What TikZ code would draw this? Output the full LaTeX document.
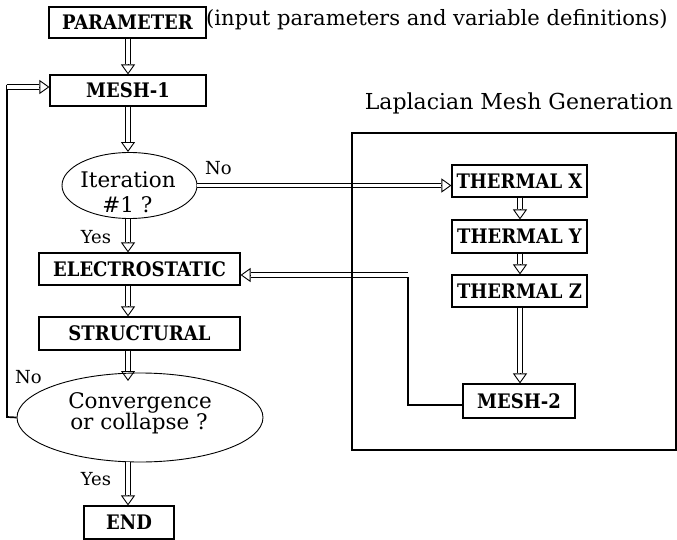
\documentclass[tikz,border=0pt]{standalone}
\usepackage{fontspec}
\setmainfont{Liberation Serif}
\newfontfamily\plotfont{DejaVu Serif}
\newfontfamily\boxfont{DejaVu Serif Condensed}
\usetikzlibrary{arrows.meta,shapes.geometric,calc}
\tikzset{
  x=1pt, y=-1pt,
  boxnode/.style={draw, line width=1.1pt, inner sep=0pt, font=\boxfont\bfseries\fontsize{20}{22}\selectfont},
  ovalnode/.style={draw, ellipse, line width=0.9pt, inner sep=0pt},
  plottext/.style={inner sep=0pt, anchor=base, font=\plotfont\fontsize{21.5}{24}\selectfont},
  smalltext/.style={inner sep=0pt, anchor=base, font=\plotfont\fontsize{18}{20}\selectfont},
  dblshaft/.style={line width=0.9pt, double distance=3.6pt, line join=miter},
  dbltip/.style={line width=0.9pt, -{Triangle[open, length=10pt, width=14pt]}},
  thickline/.style={line width=1.7pt, line join=miter},
  frame/.style={draw, line width=1.1pt}
}
\newcommand\dblarrow[2]{%
  \draw[dblshaft] #1 -- ($#2!10pt!#1$);
  \draw[dbltip] ($#2!10pt!#1$) -- #2;
}
\begin{document}
\begin{tikzpicture}
\path[use as bounding box] (0,0) rectangle (677,540);

\node[plottext, font=\plotfont\fontsize{22}{24}\selectfont] (laptitle) at (519,110) {Laplacian Mesh Generation};

% boxes
\node[boxnode, minimum width=157pt, minimum height=31pt] (par) at (127.5,22.5) {PARAMETER};
\node[plottext, anchor=base west, font=\plotfont\fontsize{21.1}{24}\selectfont] (partext) at (206,26) {(input parameters and variable definitions)};
\node[boxnode, minimum width=156pt, minimum height=31pt] (m1) at (128,90.5) {MESH-1};
\node[ovalnode, minimum width=135pt, minimum height=66pt] (e1) at (129.5,185.5) {};
\node[plottext] (e1a) at (128,188) {Iteration};
\node[plottext] (e1b) at (127.5,213) {\#1 ?};
\node[boxnode, minimum width=201pt, minimum height=32pt] (el) at (139.5,269) {ELECTROSTATIC};
\node[boxnode, minimum width=201pt, minimum height=33pt] (st) at (139.5,333.5) {STRUCTURAL};
\node[ovalnode, minimum width=246pt, minimum height=89pt] (e2) at (140,417.5) {};
\node[plottext] (e2a) at (140,408) {Convergence};
\node[plottext] (e2b) at (139,429) {or collapse ?};
\node[boxnode, minimum width=90pt, minimum height=33pt] (en) at (129,522.5) {END};

\node[boxnode, minimum width=135pt, minimum height=32pt] (tx) at (519.5,181) {THERMAL X};
\node[boxnode, minimum width=135pt, minimum height=33pt] (ty) at (519.5,236.5) {THERMAL Y};
\node[boxnode, minimum width=135pt, minimum height=32pt] (tz) at (519.5,291) {THERMAL Z};
\node[boxnode, minimum width=112pt, minimum height=34pt] (m2) at (519,401) {MESH-2};

% labels
\node[smalltext] (no1) at (218.5,175) {No};
\node[smalltext] (yes1) at (96,243) {Yes};
\node[smalltext] (no2) at (28.5,383) {No};
\node[smalltext] (yes2) at (96,485) {Yes};

% helper coordinates
\coordinate (sp) at (128,0);
\coordinate (e2top) at (128,381);
\coordinate (lp) at (7,87);
\coordinate (lpb) at (7,417);
\coordinate (rc) at (408,275);
\coordinate (rcb) at (408,405);
\coordinate (tsp) at (520,0);

% main spine arrows
\dblarrow{(sp |- par.south)}{(sp |- m1.north)}
\dblarrow{(sp |- m1.south)}{(sp |- e1.north)}
\dblarrow{(sp |- e1.south)}{(sp |- el.north)}
\dblarrow{(sp |- el.south)}{(sp |- st.north)}
\dblarrow{(sp |- st.south)}{(e2top)}
\dblarrow{(sp |- e2.south)}{(sp |- en.north)}

% No branch
\dblarrow{(e1.east)}{(tx.west |- e1.east)}

% thermal chain
\dblarrow{(tsp |- tx.south)}{(tsp |- ty.north)}
\dblarrow{(tsp |- ty.south)}{(tsp |- tz.north)}
\dblarrow{(tsp |- tz.south)}{(tsp |- m2.north)}

% MESH-2 back to ELECTROSTATIC
\draw[thickline] (m2.west |- rcb) -- (rcb) -- ([yshift=-2pt]rc);
\dblarrow{(rc)}{(el.east |- rc)}

% loop back to MESH-1
\draw[thickline] (e2.west) -- (lpb) -- ([yshift=2pt]lp);
\dblarrow{(lp)}{(m1.west |- lp)}

% frame of Laplacian mesh generation (drawn on top)
\node[frame, minimum width=324pt, minimum height=317pt, inner sep=0pt] (lap) at (514,291.5) {};
\end{tikzpicture}
\end{document}
